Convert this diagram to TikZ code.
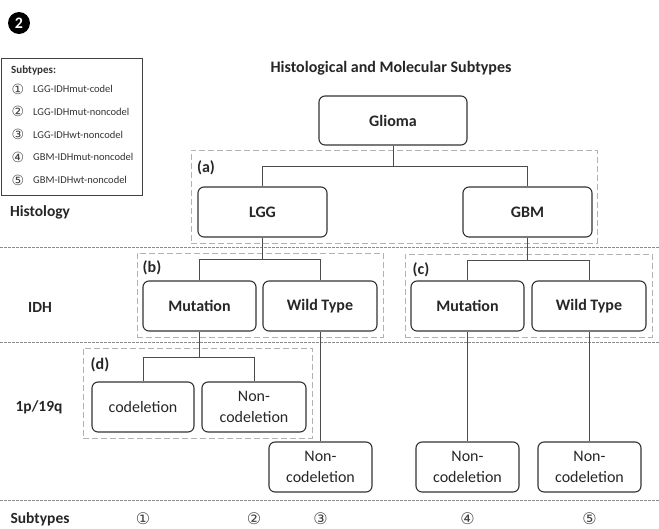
\documentclass[tikz,border=0pt]{standalone}
\usepackage{fontspec}
\setmainfont{Carlito}
\newfontfamily\symfont{DejaVu Sans}
\usetikzlibrary{positioning, fit, backgrounds}

\begin{document}
\begin{tikzpicture}[
    x=1pt, y=-1pt,
    box/.style={
        draw=black!80, line width=1.1pt, rounded corners=6pt,
        minimum height=50pt, inner sep=0pt, align=center,
        text=black!85, font=\fontsize{16}{21}\selectfont\bfseries
    },
    plainbox/.style={box, font=\fontsize{16}{21}\selectfont},
    grp/.style={
        draw=black!30, dash pattern=on 6pt off 3pt,
        line width=0.9pt, inner sep=0pt
    },
    tag/.style={font=\fontsize{16}{17}\selectfont\bfseries, text=black!85, inner sep=0pt},
    rowlab/.style={font=\fontsize{15.5}{16}\selectfont\bfseries, text=black!85, inner sep=0pt},
    link/.style={draw=black!70, line width=1pt},
    sep/.style={draw=black!45, dash pattern=on 2.5pt off 1.5pt, line width=0.7pt},
    num/.style={font=\symfont\fontsize{16}{16}\selectfont, text=black!75, inner sep=0pt},
    legtxt/.style={font=\fontsize{10.5}{11}\selectfont, text=black!80, inner sep=0pt, anchor=west}
]
\useasboundingbox (0,0) rectangle (659,528);

% figure mark and legend
\node[circle, fill=black, text=white, minimum size=22pt, inner sep=0pt,
      font=\fontsize{16}{16}\selectfont\bfseries] (mark) at (19,23) {2};
\node[draw=black!75, line width=0.9pt, minimum width=141pt, minimum height=137pt,
      inner sep=0pt] (legend) at (71.5,126.5) {};
\node[legtxt, font=\fontsize{11}{12}\selectfont\bfseries] (leghead) at (11,71) {Subtypes:};
\foreach \i/\c/\t in {1/①/LGG-IDHmut-codel, 2/②/LGG-IDHmut-noncodel,
                      3/③/LGG-IDHwt-noncodel, 4/④/GBM-IDHmut-noncodel,
                      5/⑤/GBM-IDHwt-noncodel} {
    \node[num, font=\symfont\fontsize{14}{14}\selectfont] (legnum\i) at (18,{89+22.75*(\i-1)}) {\c};
    \node[legtxt] (leg\i) at (33,{89+22.75*(\i-1)}) {\t};
}

\node[font=\fontsize{16}{17}\selectfont\bfseries, text=black!85] (title) at (391,68)
    {Histological and Molecular Subtypes};

% row labels
\node[rowlab] (rhist) at (40,212) {Histology};
\node[rowlab] (ridh)  at (40,307) {IDH};
\node[rowlab] (rcod)  at (39,407) {1p/19q};
\node[rowlab] (rsub)  at (40,519) {Subtypes};

% separators
\draw[sep] (0,247) -- (659,247);
\draw[sep] (0,342) -- (659,342);
\draw[sep] (0,500) -- (659,500);

% tree
\node[box, minimum width=148pt, minimum height=49pt] (glioma) at (393,120.5) {Glioma};
\node[box, minimum width=129pt] (lgg)  at (262.5,212) {LGG};
\node[box, minimum width=129pt] (gbm)  at (527.5,212) {GBM};
\node[box, minimum width=113pt] (mutb) at (199.5,306) {Mutation};
\node[box, minimum width=114pt] (wtb)  at (320,306)   {Wild Type};
\node[box, minimum width=113pt] (mutc) at (467.5,306) {Mutation};
\node[box, minimum width=114pt] (wtc)  at (589,306)   {Wild Type};
\node[plainbox, minimum width=102pt] (codel) at (143,407) {codeletion};
\node[plainbox, minimum width=104pt] (ncd2)  at (254,407) {Non-\\codeletion};
\node[plainbox, minimum width=103pt] (ncd3)  at (320.5,467) {Non-\\codeletion};
\node[plainbox, minimum width=103pt] (ncd4)  at (467.5,467) {Non-\\codeletion};
\node[plainbox, minimum width=103pt] (ncd5)  at (589.5,467) {Non-\\codeletion};

\draw[link] (glioma.south) -- ++(0,21) -| (lgg.north);
\draw[link] (glioma.south) -- ++(0,21) -| (gbm.north);
\draw[link] (lgg.south) -- ++(0,22) -| (mutb.north);
\draw[link] (lgg.south) -- ++(0,22) -| (wtb.north);
\draw[link] (gbm.south) -- ++(0,23) -| (mutc.north);
\draw[link] (gbm.south) -- ++(0,23) -| (wtc.north);
\draw[link] (mutb.south) -- ++(0,26) -| (codel.north);
\draw[link] (mutb.south) -- ++(0,26) -| (ncd2.north);
\draw[link] (wtb.south) -- (wtb.south |- ncd3.north);
\draw[link] (mutc.south) -- (mutc.south |- ncd4.north);
\draw[link] (wtc.south) -- (wtc.south |- ncd5.north);

% groups
\begin{scope}[on background layer]
    \node[grp, fit={(191,150) (597,243)}] (grpa) {};
    \node[grp, fit={(137,253) (383,337)}] (grpb) {};
    \node[grp, fit={(405,254) (652,337)}] (grpc) {};
    \node[grp, fit={(83,348) (312,438)}]  (grpd) {};
\end{scope}
\node[tag] (taga) at (206,168) {(a)};
\node[tag] (tagb) at (152,268) {(b)};
\node[tag] (tagc) at (421,270) {(c)};
\node[tag] (tagd) at (100,365) {(d)};

% subtype row
\node[num] (st1) at (codel |- rsub) {①};
\node[num] (st2) at (ncd2 |- rsub)  {②};
\node[num] (st3) at (ncd3 |- rsub)  {③};
\node[num] (st4) at (ncd4 |- rsub)  {④};
\node[num] (st5) at (ncd5 |- rsub)  {⑤};

\end{tikzpicture}
\end{document}
